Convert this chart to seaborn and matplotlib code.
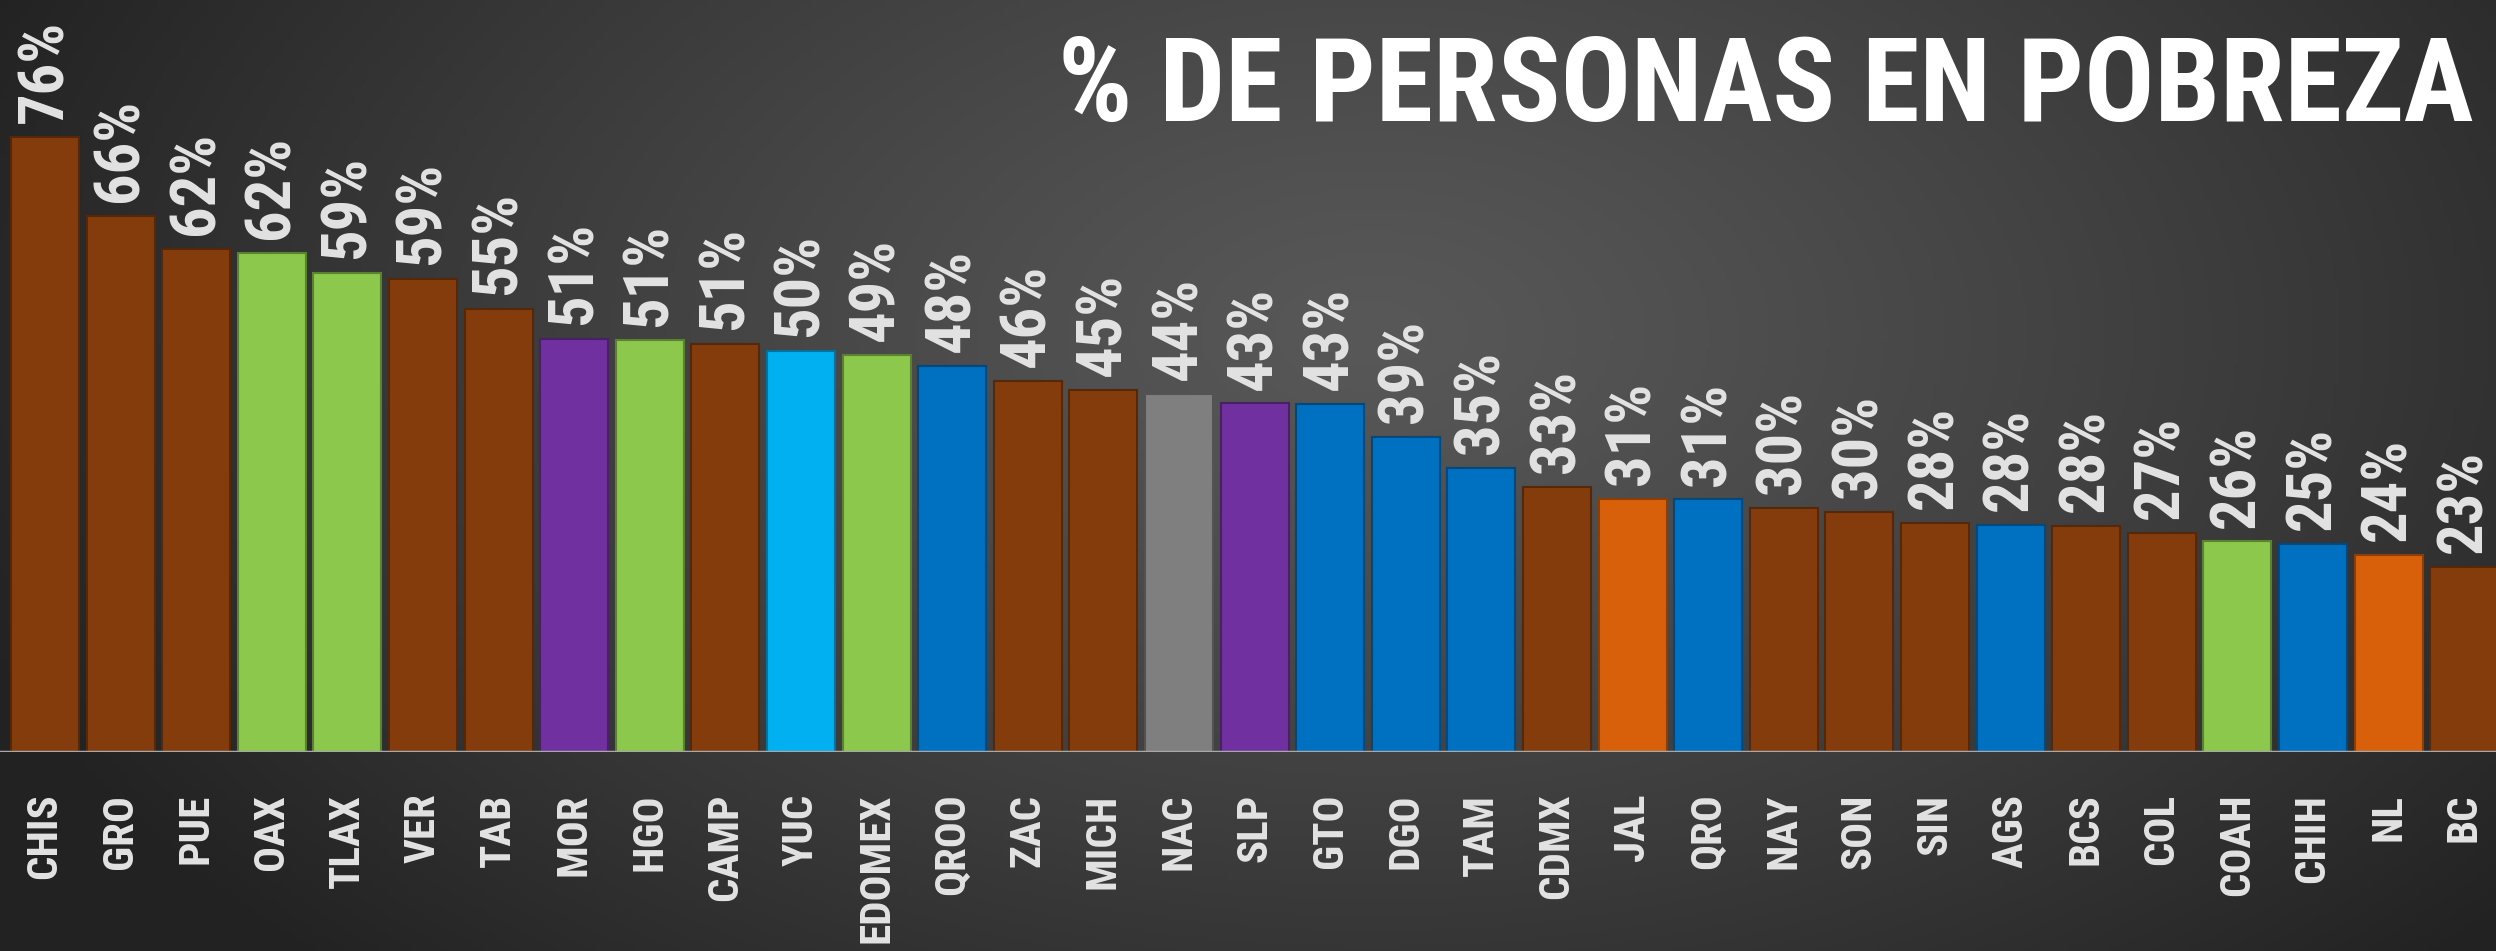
import numpy as np
import pandas as pd
import matplotlib
matplotlib.use('Agg')
import matplotlib.pyplot as plt
import matplotlib.colors as mcolors
from matplotlib import font_manager
import seaborn as sns

# Data
states = ['CHIS', 'GRO', 'PUE', 'OAX', 'TLAX', 'VER', 'TAB', 'MOR', 'HGO', 'CAMP',
          'YUC', 'EDOMEX', 'QROO', 'ZAC', 'MICH', 'NAC', 'SLP', 'GTO', 'DGO', 'TAM',
          'CDMX', 'JAL', 'QRO', 'NAY', 'SON', 'SIN', 'AGS', 'BCS', 'COL', 'COAH',
          'CHIH', 'NL', 'BC']
poverty = [76.2, 66.4, 62.4, 61.8, 59.4, 58.6, 54.9, 51.2, 51.0, 50.6,
           49.7, 49.2, 47.8, 46.0, 44.9, 44.4, 43.2, 43.1, 39.1, 35.2,
           32.8, 31.4, 31.3, 30.3, 29.8, 28.4, 28.1, 28.0, 27.1, 26.1,
           25.8, 24.4, 22.9]
labels = [76, 66, 62, 62, 59, 59, 55, 51, 51, 51,
          50, 49, 48, 46, 45, 44, 43, 43, 39, 35,
          33, 31, 31, 30, 30, 28, 28, 28, 27, 26,
          25, 24, 23]
groups = ['brown', 'brown', 'brown', 'green', 'green', 'brown', 'brown', 'purple', 'green', 'brown',
          'cyan', 'green', 'blue', 'brown', 'brown', 'gray', 'purple', 'blue', 'blue', 'blue',
          'brown', 'orange', 'blue', 'brown', 'brown', 'brown', 'blue', 'brown', 'brown', 'green',
          'blue', 'orange', 'brown']
group_colors = {'brown': '#843C0C', 'green': '#8BC84B', 'purple': '#7030A0', 'cyan': '#00B0F0',
                'blue': '#0070C0', 'gray': '#7F7F7F', 'orange': '#D9600A'}

df = pd.DataFrame({'state': states, 'poverty': poverty, 'group': groups})
palette = [group_colors[g] for g in groups]

sns.set_style('dark')


def pick_font(candidates):
    names = {f.name for f in font_manager.fontManager.ttflist}
    for c in candidates:
        if c in names:
            return c
    return 'DejaVu Sans'


cond_font = pick_font(['Liberation Sans Narrow', 'DejaVu Sans Condensed', 'Roboto Condensed',
                       'Open Sans Condensed', 'Liberation Sans'])
plt.rcParams['font.family'] = [cond_font, 'DejaVu Sans']

fig = plt.figure(figsize=(24.96, 9.51), dpi=100)

# background gradient
bg = fig.add_axes([0, 0, 1, 1], zorder=0)
gx, gy = np.meshgrid(np.linspace(0, 1, 600), np.linspace(0, 1, 240))
r = np.sqrt(((gx - 0.55) / 0.6) ** 2 + ((gy - 0.35) / 0.95) ** 2)
shade = 0x58 - (0x58 - 0x22) * np.clip(r, 0, 1) ** 1.2
img = np.dstack([shade, shade, shade]) / 255.0
bg.imshow(img, aspect='auto', extent=[0, 1, 0, 1], origin='upper')
bg.set_axis_off()

ax = fig.add_axes([0, (951 - 752) / 951, 1, 752 / 951], zorder=1)
ax.patch.set_alpha(0)

sns.barplot(data=df, x='state', y='poverty', hue='state', palette=palette,
            legend=False, width=0.9, saturation=1, ax=ax)

for patch, col in zip(ax.patches, palette):
    dark = np.array(mcolors.to_rgb(col)) * 0.65
    patch.set_edgecolor(dark)
    patch.set_linewidth(1.5)

for cont, lab in zip(ax.containers, labels):
    ax.bar_label(cont, labels=[f'{lab}%'], rotation=90, padding=10,
                 color='#E3E3E3', fontsize=45, fontweight='bold')

ax.set_xlim(-0.595, 32.42)
ax.set_ylim(0, 93.2)
ax.axhline(0, color='#A8A8A8', lw=2.5, zorder=5)
ax.set_xlabel('')
ax.set_ylabel('')
ax.set_yticks([])
ax.tick_params(axis='x', length=0, pad=30, labelsize=31, labelcolor='#E3E3E3', rotation=90)
for t in ax.get_xticklabels():
    t.set_fontweight('bold')
for s in ax.spines.values():
    s.set_visible(False)
ax.grid(False)

fig.text(0.991, 0.965, '% DE PERSONAS EN POBREZA', ha='right', va='top',
         color='white', fontsize=84, fontweight='bold')

fig.patch.set_edgecolor('black')
fig.patch.set_linewidth(3)
fig.savefig('out.png', dpi=100, facecolor='#2a2a2a', edgecolor='black')
